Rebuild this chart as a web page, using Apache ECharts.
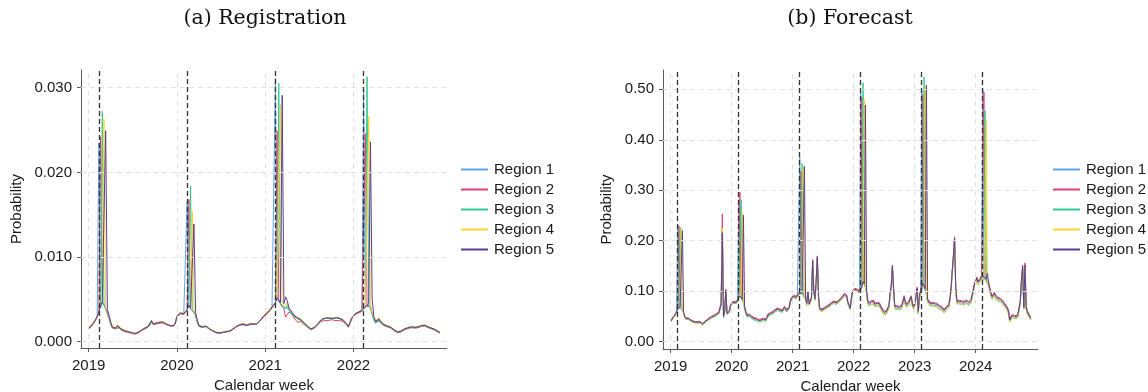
<!DOCTYPE html>
<html>
<head>
<meta charset="utf-8">
<script src="https://cdn.jsdelivr.net/npm/echarts@6/dist/echarts.min.js"></script>
<style>
html,body{margin:0;padding:0;background:#fff;}
#chart{width:1148px;height:392px;}
</style>
</head>
<body>
<div id="chart"></div>
<script>
// ---------- labels / categories ----------
const regionNames = ['Region 1', 'Region 2', 'Region 3', 'Region 4', 'Region 5'];
const panelTitles = ['(a) Registration', '(b) Forecast'];
const yearLabelsLeft = ['2019', '2020', '2021', '2022'];
const yearLabelsRight = ['2019', '2020', '2021', '2022', '2023', '2024'];
// week index (0 = first week of 2019) where each year starts
const yearWeeksLeft = [0, 52, 104, 156];
const yearWeeksRight = [0, 52, 104, 156, 208, 260];
// dashed black event lines (week index)
const eventWeeksLeft = [6, 58, 110, 162];
const eventWeeksRight = [6, 58, 110, 162, 214, 266];
// y tick values and labels
const yTicksLeft = [0, 0.01, 0.02, 0.03];
const yTickLabelsLeft = ['0.000', '0.010', '0.020', '0.030'];
const yTicksRight = [0, 0.1, 0.2, 0.3, 0.4, 0.5];
const yTickLabelsRight = ['0.00', '0.10', '0.20', '0.30', '0.40', '0.50'];

// ---------- (a) Registration: weekly probability, in units of 0.001 ----------
const regUnit = 0.001;
const regRegion1 = [
1.6,1.8,2.0,2.3,2.6,3.0,23.5,4.0,4.6,4.4, 3.9,3.4,2.9,2.1,1.7,1.8,1.6,1.9,1.7,1.5, 1.4,1.3,1.25,1.2,1.1,1.05,1.0,0.95,1.0,1.1, 1.2,1.3,1.5,1.6,1.7,1.8,1.85,2.4,2.1,2.0, 2.2,2.3,2.3,2.4,2.3,2.1,2.0,1.95,1.9,1.8, 1.9,2.2,
3.0,3.2,3.4,3.4,3.3,3.2,16.5,4.2,3.9,3.7, 3.5,3.1,2.3,1.9,1.8,1.7,1.8,1.8,1.7,1.5, 1.4,1.3,1.2,1.1,1.0,1.0,1.1,1.1,1.1,1.2, 1.15,1.25,1.4,1.5,1.6,1.8,1.9,2.0,2.0,2.1, 2.0,1.9,2.0,2.1,2.1,2.1,2.0,2.1,2.3,2.5, 2.7,3.0,
3.2,3.4,3.6,3.8,4.1,4.3,31.1,5.0,4.9,4.5, 4.2,4.0,4.0,4.2,3.8,3.5,3.4,3.0,2.9,2.8, 2.7,2.6,2.4,2.2,2.0,1.8,1.6,1.5,1.5,1.7, 1.9,2.1,2.4,2.5,2.7,2.7,2.8,2.7,2.8,2.8, 2.7,2.8,2.8,2.8,2.7,2.7,2.5,2.4,2.1,1.8, 2.3,2.8,
3.0,3.3,3.4,3.5,3.5,3.7,29.7,4.0,4.2,4.4, 4.1,3.3,2.7,2.3,2.5,2.6,2.3,2.1,2.0,1.9, 1.8,1.8,1.7,1.5,1.4,1.3,1.15,1.1,1.2,1.4, 1.5,1.6,1.6,1.7,1.7,1.8,1.7,1.8,1.7,1.8, 1.9,2.0,1.9,1.8,1.7,1.7,1.6,1.5,1.4,1.3, 1.2,1.1
];
const regRegion2 = [
1.5,1.7,1.9,2.2,2.5,2.9,3.5,24.2,4.7,4.4, 3.9,3.3,2.8,2.0,1.6,1.8,1.5,1.8,1.7,1.4, 1.3,1.2,1.2,1.1,1.0,1.0,0.9,0.9,1.0,1.0, 1.1,1.3,1.45,1.5,1.6,1.7,1.8,2.3,2.0,1.95, 2.1,2.25,2.2,2.35,2.2,2.1,2.0,1.9,1.85,1.8, 1.85,2.1,
2.9,3.1,3.3,3.4,3.2,3.1,3.7,16.8,3.9,3.7, 3.5,3.1,2.3,1.8,1.7,1.7,1.7,1.8,1.6,1.5, 1.4,1.25,1.15,1.05,0.95,1.0,1.05,1.05,1.1,1.15, 1.1,1.2,1.35,1.45,1.6,1.75,1.9,1.95,2.0,2.0, 1.95,1.9,1.95,2.0,2.1,2.05,2.0,2.05,2.25,2.45, 2.6,2.9,
3.1,3.3,3.5,3.7,4.0,4.2,4.5,24.9,4.9,4.5, 4.2,3.9,2.9,3.2,3.5,3.3,3.2,2.8,2.6,2.3, 2.4,2.4,2.2,2.0,1.9,1.7,1.5,1.4,1.45,1.6, 1.8,2.0,2.2,2.4,2.5,2.5,2.55,2.5,2.5,2.6, 2.4,2.5,2.55,2.5,2.5,2.45,2.35,2.2,1.95,1.7, 2.2,2.7,
2.9,3.2,3.4,3.4,3.5,3.6,3.7,24.6,4.2,4.4, 4.1,3.3,2.6,2.2,2.4,2.5,2.2,2.0,1.9,1.8, 1.75,1.7,1.6,1.4,1.3,1.2,1.05,1.0,1.15,1.3, 1.4,1.5,1.55,1.6,1.65,1.7,1.6,1.7,1.65,1.7, 1.8,1.9,1.85,1.7,1.65,1.6,1.5,1.45,1.35,1.2, 1.1,1.0
];
const regRegion3 = [
1.6,1.8,2.0,2.3,2.6,3.0,3.6,4.1,27.2,4.4, 3.9,3.4,2.9,2.1,1.7,1.8,1.6,1.8,1.6,1.5, 1.4,1.3,1.3,1.2,1.1,1.1,1.0,1.0,1.05,1.1, 1.2,1.35,1.5,1.6,1.7,1.8,1.85,2.4,2.1,2.05, 2.2,2.3,2.3,2.4,2.3,2.1,2.05,1.95,1.9,1.85, 1.9,2.2,
3.0,3.2,3.4,3.45,3.3,3.2,3.8,4.2,18.4,3.7, 3.5,3.1,2.3,1.8,1.7,1.7,1.75,1.8,1.65,1.5, 1.4,1.3,1.2,1.1,1.0,1.0,1.05,1.1,1.1,1.2, 1.15,1.25,1.4,1.5,1.65,1.8,1.95,2.0,2.05,2.1, 2.0,1.95,2.0,2.1,2.15,2.1,2.05,2.1,2.3,2.5, 2.7,3.0,
3.2,3.4,3.6,3.8,4.1,4.3,4.6,5.1,30.5,4.4, 4.1,3.9,3.9,4.3,3.7,3.4,3.3,3.0,2.8,2.7, 2.6,2.5,2.3,2.1,1.9,1.7,1.55,1.45,1.5,1.65, 1.85,2.05,2.35,2.5,2.65,2.7,2.75,2.7,2.75,2.8, 2.7,2.75,2.8,2.75,2.7,2.65,2.5,2.35,2.05,1.75, 2.25,2.75,
3.0,3.3,3.5,3.5,3.55,3.7,3.8,4.0,31.3,4.3, 4.0,3.2,2.6,2.2,2.5,2.6,2.3,2.1,1.95,1.85, 1.8,1.75,1.65,1.45,1.35,1.25,1.1,1.05,1.2,1.35, 1.45,1.55,1.6,1.65,1.7,1.75,1.65,1.75,1.7,1.75, 1.85,1.95,1.9,1.75,1.7,1.65,1.55,1.5,1.4,1.25, 1.15,1.05
];
const regRegion4 = [
1.7,1.9,2.1,2.4,2.7,3.1,3.7,4.3,4.9,26.3, 4.1,3.6,3.1,2.3,1.8,2.0,1.7,2.0,1.8,1.6, 1.5,1.4,1.35,1.25,1.15,1.1,1.0,0.9,1.1,1.15, 1.25,1.4,1.55,1.65,1.75,1.85,1.9,2.55,2.15,2.1, 2.25,2.4,2.35,2.5,2.35,2.2,2.1,2.0,1.95,1.9, 1.95,2.25,
3.1,3.3,3.5,3.5,3.35,3.25,3.85,4.35,4.1,15.4, 3.7,3.3,2.5,2.0,1.85,1.8,1.85,1.9,1.75,1.6, 1.5,1.35,1.25,1.15,1.05,1.1,1.15,1.15,1.2,1.25, 1.2,1.3,1.45,1.55,1.7,1.85,2.0,2.05,2.1,2.15, 2.05,2.0,2.05,2.15,2.2,2.15,2.1,2.15,2.35,2.55, 2.75,3.05,
3.3,3.5,3.7,3.9,4.2,4.4,4.7,5.3,5.1,28.0, 4.4,4.2,4.3,4.6,4.0,3.7,3.6,3.2,3.0,2.9, 2.8,2.7,2.5,2.3,2.1,1.9,1.7,1.55,1.6,1.75, 1.95,2.15,2.45,2.6,2.75,2.8,2.85,2.8,2.85,2.9, 2.8,2.85,2.9,2.85,2.8,2.75,2.6,2.45,2.15,1.85, 2.35,2.85,
3.05,3.35,3.55,3.55,3.6,3.75,3.85,4.15,4.35,26.6, 4.3,3.5,2.9,2.5,2.7,2.8,2.5,2.3,2.1,2.0, 1.9,1.85,1.75,1.55,1.45,1.35,1.2,1.15,1.3,1.45, 1.55,1.65,1.7,1.75,1.8,1.85,1.75,1.85,1.8,1.85, 1.95,2.05,2.0,1.85,1.8,1.75,1.65,1.6,1.5,1.35, 1.25,1.15
];
const regRegion5 = [
1.6,1.8,2.0,2.3,2.6,3.0,3.6,4.2,4.8,4.6, 24.9,3.8,3.1,2.3,1.7,1.9,1.6,1.9,1.7,1.5, 1.4,1.3,1.3,1.2,1.1,1.1,1.0,0.95,1.05,1.1, 1.2,1.35,1.5,1.6,1.7,1.8,1.85,2.5,2.1,2.05, 2.2,2.35,2.3,2.45,2.3,2.15,2.05,1.95,1.9,1.85, 1.9,2.2,
3.0,3.2,3.4,3.45,3.3,3.2,3.8,4.3,4.0,3.8, 13.9,3.4,2.5,1.9,1.8,1.75,1.8,1.85,1.7,1.55, 1.45,1.3,1.2,1.1,1.0,1.05,1.1,1.1,1.15,1.2, 1.15,1.25,1.4,1.5,1.65,1.8,1.95,2.0,2.05,2.1, 2.0,1.95,2.0,2.1,2.15,2.1,2.05,2.1,2.3,2.5, 2.7,3.0,
3.2,3.4,3.6,3.8,4.1,4.3,4.6,5.2,5.0,4.6, 29.1,4.5,5.3,4.8,4.0,3.7,3.5,3.1,2.9,2.8, 2.7,2.6,2.4,2.2,2.0,1.8,1.6,1.5,1.55,1.7, 1.9,2.1,2.4,2.55,2.7,2.75,2.8,2.75,2.8,2.85, 2.75,2.8,2.85,2.8,2.75,2.7,2.55,2.4,2.1,1.8, 2.3,2.8,
3.0,3.3,3.5,3.5,3.55,3.7,3.8,4.1,4.3,4.5, 23.6,5.0,3.0,2.4,2.6,2.7,2.4,2.2,2.0,1.9, 1.85,1.8,1.7,1.5,1.4,1.3,1.15,1.1,1.25,1.4, 1.5,1.6,1.65,1.7,1.75,1.8,1.7,1.8,1.75,1.8, 1.9,2.0,1.95,1.8,1.75,1.7,1.6,1.55,1.45,1.3, 1.2,1.1
];

// ---------- (b) Forecast: weekly probability, in units of 0.01 ----------
const fcUnit = 0.01;
const fcRegion1 = [
3.9,4.3,4.7,4.9,5.3,5.8,22.5,6.7,6.8,6.6, 6.3,5.7,4.9,4.5,4.3,4.5,4.3,4.2,4.1,3.9, 4.0,3.8,3.7,3.8,4.0,3.8,3.6,3.4,3.5,3.8, 4.0,4.2,4.4,4.5,4.6,4.8,4.9,5.0,5.2,5.3, 5.4,5.6,5.8,7.3,22.0,4.9,5.9,10.0,5.5,5.2, 5.9,7.1,
7.5,7.6,7.7,7.8,7.7,8.1,27.4,9.1,8.7,8.3, 7.9,6.7,5.8,5.1,4.9,5.2,5.0,4.8,5.1,4.5, 4.3,4.4,4.2,4.1,4.3,4.2,4.1,4.4,4.3,4.2, 4.7,5.2,5.3,5.5,5.6,5.7,5.9,6.1,6.2,6.4, 6.5,6.2,6.1,6.0,6.3,6.7,6.4,6.1,5.8,6.7, 7.9,8.5,
8.7,8.9,8.9,8.7,9.1,9.3,36.6,9.8,9.5,9.2, 8.9,8.5,7.5,9.6,7.4,7.7,8.5,15.8,9.9,8.4, 11.8,16.5,8.9,6.4,6.3,6.2,6.3,6.5,6.8,6.8, 6.9,7.1,7.1,7.5,7.8,7.8,7.6,7.6,7.4,7.9, 8.2,8.4,8.7,8.9,9.3,9.5,9.0,7.7,7.1,6.5, 8.4,9.8,
10.0,10.2,10.3,10.0,9.7,9.8,49.5,10.8,11.7,11.3, 10.8,9.8,7.7,7.3,7.4,7.6,7.3,7.7,7.1,6.9, 7.3,7.6,7.2,6.6,6.3,5.9,5.5,5.3,5.7,6.3, 6.7,9.2,10.7,14.7,10.2,6.7,6.4,6.6,6.3,6.5, 6.6,6.8,7.7,8.6,7.5,7.0,6.9,7.5,8.2,8.6, 7.2,6.6,
7.2,8.5,10.3,5.7,8.7,9.7,49.9,11.2,10.7,10.2, 9.5,8.0,7.7,7.3,7.5,7.3,7.6,7.2,7.0,7.1, 6.8,6.7,6.9,6.5,6.3,5.9,6.1,6.5,6.7,6.9, 8.2,10.2,13.7,16.7,20.2,10.2,7.7,7.6,7.7,7.5, 7.6,7.7,7.5,7.6,7.8,7.5,7.4,7.5,7.9,8.9, 8.7,11.2,
11.7,12.3,11.5,11.3,12.1,12.6,50.2,12.5,12.3,12.1, 11.7,11.3,10.2,9.2,8.6,8.9,9.3,8.7,9.0,8.3, 8.4,8.1,8.0,7.7,7.3,7.5,6.7,6.3,5.7,4.0, 3.7,4.9,5.0,4.7,5.0,4.7,5.1,5.2,7.7,11.9, 14.5,6.5,14.8,6.7,5.6,5.2,4.7,4.4
];
const fcRegion2 = [
4.1,4.5,4.9,5.1,5.5,6.0,6.6,23.0,7.0,6.8, 6.5,5.9,5.1,4.7,4.5,4.7,4.5,4.4,4.3,4.1, 4.2,4.0,3.9,4.0,4.2,4.0,3.8,3.6,3.7,4.0, 4.2,4.4,4.7,4.8,4.9,5.1,5.2,5.3,5.5,5.6, 5.7,5.9,6.1,7.8,25.3,5.2,6.2,10.4,5.8,5.5, 6.2,7.4,
7.8,7.9,8.0,8.1,8.0,8.4,9.2,29.6,9.0,8.6, 8.2,7.0,6.1,5.4,5.2,5.5,5.3,5.1,5.4,4.8, 4.6,4.7,4.5,4.4,4.6,4.5,4.4,4.7,4.6,4.5, 5.0,5.5,5.6,5.8,5.9,6.0,6.2,6.4,6.5,6.7, 6.8,6.5,6.4,6.3,6.6,7.0,6.7,6.4,6.1,7.0, 8.2,8.8,
9.0,9.2,9.2,9.0,9.4,9.6,9.8,33.7,9.8,9.5, 9.2,8.8,7.8,10.0,7.7,8.0,8.8,16.3,10.2,8.7, 12.2,17.0,9.2,6.7,6.6,6.5,6.6,6.8,7.1,7.1, 7.2,7.4,7.4,7.8,8.1,8.1,7.9,7.9,7.7,8.2, 8.5,8.7,9.0,9.2,9.6,9.8,9.3,8.0,7.4,6.8, 8.7,10.1,
10.4,10.6,10.7,10.4,10.1,10.2,10.7,48.5,12.1,11.7, 11.2,10.2,8.2,7.8,7.9,8.1,7.8,8.2,7.6,7.4, 7.8,8.1,7.7,7.1,6.8,6.4,6.0,5.8,6.2,6.8, 7.2,9.7,11.2,15.2,10.7,7.2,6.9,7.1,6.8,7.0, 7.1,7.3,8.2,9.1,8.0,7.5,7.4,8.0,8.7,9.1, 7.7,7.1,
7.7,9.0,10.8,6.2,9.2,10.2,11.0,49.0,11.2,10.7, 10.0,8.5,8.2,7.8,8.0,7.8,8.1,7.7,7.5,7.6, 7.3,7.2,7.4,7.0,6.8,6.4,6.6,7.0,7.2,7.4, 8.7,10.7,14.2,17.2,20.8,10.7,8.2,8.1,8.2,8.0, 8.1,8.2,8.0,8.1,8.3,8.0,7.9,8.0,8.4,9.4, 9.2,11.7,
12.2,12.8,12.0,11.8,12.6,13.1,13.1,49.5,12.8,12.6, 12.2,11.8,10.7,9.7,9.1,9.4,9.8,9.2,9.5,8.8, 8.9,8.6,8.5,8.2,7.8,8.0,7.2,6.8,6.2,4.5, 4.2,5.4,5.5,5.2,5.5,5.2,5.6,5.7,8.2,12.5, 15.2,7.0,15.6,7.2,6.1,5.7,5.2,4.9
];
const fcRegion3 = [
3.9,4.3,4.7,4.9,5.3,5.8,6.4,6.7,22.7,6.6, 6.2,5.6,4.8,4.4,4.2,4.4,4.2,4.1,4.0,3.8, 3.9,3.7,3.6,3.7,3.9,3.7,3.5,3.3,3.4,3.7, 3.9,4.1,4.3,4.4,4.5,4.7,4.8,4.9,5.1,5.2, 5.3,5.5,5.7,7.3,22.5,4.8,5.8,10.0,5.4,5.1, 5.8,7.0,
7.4,7.5,7.6,7.7,7.6,8.0,8.8,9.0,28.1,8.2, 7.7,6.5,5.6,4.9,4.7,5.0,4.8,4.6,4.9,4.3, 4.1,4.2,4.0,3.9,4.1,4.0,3.9,4.2,4.1,4.0, 4.5,5.0,5.1,5.3,5.4,5.5,5.7,5.9,6.0,6.2, 6.3,6.0,5.9,5.8,6.1,6.5,6.2,5.9,5.6,6.5, 7.7,8.3,
8.5,8.7,8.7,8.5,8.9,9.1,9.3,9.6,35.3,9.0, 8.7,8.3,7.2,9.5,7.2,7.5,8.3,15.8,9.7,8.2, 11.7,16.5,8.7,6.2,6.1,6.0,6.1,6.3,6.6,6.6, 6.7,6.9,6.9,7.3,7.6,7.6,7.4,7.4,7.2,7.7, 8.0,8.2,8.5,8.7,9.1,9.3,8.8,7.5,6.9,6.3, 8.2,9.6,
9.9,10.1,10.2,9.9,9.6,9.7,10.2,10.7,51.3,11.2, 10.7,9.6,7.5,7.1,7.2,7.4,7.1,7.5,6.9,6.7, 7.1,7.4,7.0,6.4,6.1,5.7,5.3,5.1,5.5,6.1, 6.5,9.0,10.5,14.6,10.0,6.5,6.2,6.4,6.1,6.3, 6.4,6.6,7.5,8.4,7.3,6.8,6.7,7.3,8.0,8.4, 7.0,6.4,
7.0,8.3,10.1,5.5,8.5,9.5,10.3,11.0,52.4,10.0, 9.3,7.8,7.5,7.1,7.3,7.1,7.4,7.0,6.8,6.9, 6.6,6.5,6.7,6.3,6.1,5.7,5.9,6.3,6.5,6.7, 8.0,10.0,13.5,16.5,20.0,10.0,7.5,7.4,7.5,7.3, 7.4,7.5,7.3,7.4,7.6,7.3,7.2,7.3,7.7,8.7, 8.5,11.0,
11.5,12.1,11.3,11.1,11.9,12.4,12.4,12.3,45.8,11.9, 11.5,11.1,10.0,9.0,8.4,8.7,9.1,8.5,8.8,8.1, 8.2,7.9,7.8,7.5,7.1,7.3,6.5,6.1,5.5,3.9, 3.6,4.8,4.9,4.6,4.9,4.6,5.0,5.1,7.6,11.8, 14.4,6.4,14.8,6.6,5.5,5.1,4.6,4.3
];
const fcRegion4 = [
3.9,4.3,4.7,4.9,5.3,5.8,6.4,6.7,6.8,22.5, 6.3,5.7,4.9,4.5,4.3,4.5,4.3,4.2,4.1,3.9, 4.0,3.8,3.7,3.7,3.9,3.7,3.5,3.3,3.4,3.8, 4.0,4.2,4.4,4.5,4.6,4.8,4.9,5.0,5.2,5.3, 5.4,5.6,5.8,7.4,22.5,4.9,5.9,10.1,5.5,5.2, 5.9,7.1,
7.5,7.6,7.7,7.8,7.7,8.1,8.9,9.1,8.7,25.6, 7.9,6.7,5.8,5.1,4.9,5.2,5.0,4.8,5.1,4.5, 4.3,4.4,4.2,4.1,4.3,4.2,4.1,4.4,4.3,4.2, 4.7,5.2,5.3,5.5,5.6,5.7,5.9,6.1,6.2,6.4, 6.5,6.2,6.1,6.0,6.3,6.7,6.4,6.1,5.8,6.7, 7.9,8.5,
8.6,8.8,8.8,8.6,9.0,9.2,9.4,9.7,9.4,34.5, 8.8,8.4,7.4,9.6,7.3,7.6,8.4,15.9,9.8,8.3, 11.9,16.7,8.8,6.3,6.2,6.1,6.2,6.4,6.7,6.7, 6.8,7.0,7.0,7.4,7.7,7.7,7.5,7.5,7.3,7.8, 8.1,8.3,8.6,8.8,9.2,9.4,8.9,7.6,7.0,6.4, 8.3,9.7,
10.0,10.2,10.3,10.0,9.7,9.8,10.3,10.8,11.7,48.0, 10.8,9.8,7.6,7.2,7.3,7.5,7.2,7.6,7.0,6.8, 7.2,7.5,7.1,6.5,6.2,5.8,5.4,5.2,5.6,6.2, 6.6,9.1,10.6,14.8,10.1,6.6,6.3,6.5,6.2,6.4, 6.5,6.7,7.6,8.5,7.4,6.9,6.8,7.4,8.1,8.5, 7.1,6.5,
7.1,8.4,10.2,5.6,8.6,9.6,10.4,11.1,10.6,50.5, 9.4,7.9,7.6,7.2,7.4,7.2,7.5,7.1,6.9,7.0, 6.7,6.6,6.8,6.4,6.2,5.8,6.0,6.4,6.6,6.8, 8.1,10.1,13.6,16.6,20.1,10.1,7.6,7.5,7.6,7.4, 7.5,7.6,7.4,7.5,7.7,7.4,7.3,7.4,7.8,8.8, 8.6,11.1,
11.6,12.2,11.4,11.2,12.0,12.5,12.5,12.4,12.2,43.8, 11.6,11.2,10.1,9.1,8.5,8.8,9.2,8.6,8.9,8.2, 8.3,8.0,7.9,7.6,7.2,7.4,6.6,6.2,5.6,4.0, 3.7,4.9,5.0,4.7,5.0,4.7,5.1,5.2,7.7,11.9, 14.6,6.5,14.9,6.7,5.6,5.2,4.7,4.4
];
const fcRegion5 = [
4.0,4.4,4.8,5.0,5.4,5.9,6.5,6.8,6.9,6.7, 22.0,5.8,5.0,4.6,4.4,4.6,4.4,4.3,4.2,4.0, 4.1,3.9,3.8,3.9,4.1,3.9,3.7,3.5,3.6,3.9, 4.1,4.3,4.5,4.6,4.7,4.9,5.0,5.1,5.3,5.4, 5.5,5.7,5.9,7.5,21.6,5.0,6.0,10.2,5.6,5.3, 6.0,7.2,
7.6,7.7,7.8,7.9,7.8,8.2,9.0,9.2,8.8,8.4, 25.1,6.8,5.9,5.2,5.0,5.3,5.1,4.9,5.2,4.6, 4.4,4.5,4.3,4.2,4.4,4.3,4.2,4.5,4.4,4.3, 4.8,5.3,5.4,5.6,5.7,5.8,6.0,6.2,6.3,6.5, 6.6,6.3,6.2,6.1,6.4,6.8,6.5,6.2,5.9,6.8, 8.0,8.6,
8.8,9.0,9.0,8.8,9.2,9.4,9.6,9.9,9.6,9.3, 34.8,8.6,7.6,9.8,7.5,7.8,8.6,16.0,10.0,8.5, 12.0,16.8,9.0,6.5,6.4,6.3,6.4,6.6,6.9,6.9, 7.0,7.2,7.2,7.6,7.9,7.9,7.7,7.7,7.5,8.0, 8.3,8.5,8.8,9.0,9.4,9.6,9.1,7.8,7.2,6.6, 8.5,9.9,
10.2,10.4,10.5,10.2,9.9,10.0,10.5,11.0,11.9,11.5, 46.9,10.0,8.0,7.6,7.7,7.9,7.6,8.0,7.4,7.2, 7.6,7.9,7.5,6.9,6.6,6.2,5.8,5.6,6.0,6.6, 7.0,9.5,11.0,15.0,10.5,7.0,6.7,6.9,6.6,6.8, 6.9,7.1,8.0,8.9,7.8,7.3,7.2,7.8,8.5,8.9, 7.5,6.9,
7.5,8.8,10.6,6.0,9.0,10.0,10.8,11.5,11.0,10.5, 50.8,8.3,8.0,7.6,7.8,7.6,7.9,7.5,7.3,7.4, 7.1,7.0,7.2,6.8,6.6,6.2,6.4,6.8,7.0,7.2, 8.5,10.5,14.0,17.0,20.5,10.5,8.0,7.9,8.0,7.8, 7.9,8.0,7.8,7.9,8.1,7.8,7.7,7.8,8.2,9.2, 9.0,11.5,
12.0,12.6,11.8,11.6,12.4,12.9,12.9,12.8,12.6,12.4, 13.5,11.6,10.5,9.5,8.9,9.2,9.6,9.0,9.3,8.6, 8.7,8.4,8.3,8.0,7.6,7.8,7.0,6.6,6.0,4.3, 4.0,5.2,5.3,5.0,5.3,5.0,5.4,5.5,8.0,12.2, 14.9,6.8,15.2,7.0,5.9,5.5,5.0,4.7
];

// ---------- styling ----------
const regionColors = ['#5ba4f0', '#e0426e', '#34c98f', '#ffd02e', '#5a3d98'];
const FONT = '"Liberation Sans", Arial, sans-serif';
const TXT = '#1a1a1a';
const AXC = '#5a5a5a';

const regSeriesData = [regRegion1, regRegion2, regRegion3, regRegion4, regRegion5];
const fcSeriesData = [fcRegion1, fcRegion2, fcRegion3, fcRegion4, fcRegion5];

const chart = echarts.init(document.getElementById('chart'), null, {renderer: 'canvas'});

function xAxisFor(gridIndex, min, max, weeks, labels) {
  return {
    type: 'value', gridIndex, min, max,
    axisLine: {show: true, onZero: false, lineStyle: {color: AXC, width: 1}},
    axisTick: {show: true, customValues: weeks, length: 4, lineStyle: {color: AXC}},
    axisLabel: {show: true, customValues: weeks, margin: 10, color: TXT, fontSize: 15, fontFamily: FONT,
      formatter: v => labels[weeks.indexOf(Math.round(v))] || ''},
    splitLine: {show: false},
    name: 'Calendar week', nameLocation: 'middle', nameGap: 27,
    nameTextStyle: {color: TXT, fontSize: 15, fontFamily: FONT}
  };
}
function yAxisFor(gridIndex, min, max, ticks, labels, nameGap) {
  return {
    type: 'value', gridIndex, min, max,
    axisLine: {show: true, onZero: false, lineStyle: {color: AXC, width: 1}},
    axisTick: {show: true, customValues: ticks, length: 4, lineStyle: {color: AXC}},
    axisLabel: {show: true, customValues: ticks, margin: 9, color: TXT, fontSize: 15, fontFamily: FONT,
      formatter: v => {
        let best = 0;
        ticks.forEach((t, i) => { if (Math.abs(t - v) < Math.abs(ticks[best] - v)) best = i; });
        return labels[best];
      }},
    splitLine: {show: false},
    name: 'Probability', nameLocation: 'middle', nameGap,
    nameTextStyle: {color: TXT, fontSize: 15, fontFamily: FONT}
  };
}

function guideSeries(idx, xVals, yVals, events) {
  return [{
    type: 'line', xAxisIndex: idx, yAxisIndex: idx, data: [], silent: true, z: 1,
    markLine: {
      silent: true, symbol: ['none', 'none'], animation: false,
      label: {show: false},
      lineStyle: {color: '#e2e2e2', type: [5, 4], width: 1},
      data: xVals.map(v => ({xAxis: v})).concat(yVals.map(v => ({yAxis: v})))
    }
  }, {
    type: 'line', xAxisIndex: idx, yAxisIndex: idx, data: [], silent: true, z: 5,
    markLine: {
      silent: true, symbol: ['none', 'none'], animation: false,
      label: {show: false},
      lineStyle: {color: '#333333', type: [5, 3], width: 1.3},
      data: events.map(v => ({xAxis: v}))
    }
  }];
}

const series = [];
series.push(...guideSeries(0, yearWeeksLeft, yTicksLeft, eventWeeksLeft));
series.push(...guideSeries(1, yearWeeksRight, yTicksRight, eventWeeksRight));
regSeriesData.forEach((arr, r) => {
  series.push({
    type: 'line', name: regionNames[r], xAxisIndex: 0, yAxisIndex: 0, z: 2,
    data: arr.map((v, i) => [i, v * regUnit]),
    symbol: 'none', showSymbol: false,
    lineStyle: {width: 1, color: regionColors[r]}, itemStyle: {color: regionColors[r]},
    animation: false
  });
});
fcSeriesData.forEach((arr, r) => {
  series.push({
    type: 'line', name: regionNames[r], xAxisIndex: 1, yAxisIndex: 1, z: 2,
    data: arr.map((v, i) => [i, v * fcUnit]),
    symbol: 'none', showSymbol: false,
    lineStyle: {width: 1, color: regionColors[r]}, itemStyle: {color: regionColors[r]},
    animation: false
  });
});

function legendAt(left) {
  return {
    orient: 'vertical', left, top: 157, itemWidth: 27, itemHeight: 2, itemGap: 5,
    icon: 'rect',
    data: regionNames, selectedMode: false,
    textStyle: {color: TXT, fontSize: 15, fontFamily: FONT, lineHeight: 15, padding: [0, 0, 0, 1]}
  };
}

chart.setOption({
  backgroundColor: '#ffffff',
  animation: false,
  grid: [
    {left: 81, top: 70, width: 366, height: 278, outerBoundsMode: 'none', containLabel: false},
    {left: 663, top: 70, width: 375, height: 279, outerBoundsMode: 'none', containLabel: false}
  ],
  xAxis: [
    xAxisFor(0, -4.54, 211.1, yearWeeksLeft, yearLabelsLeft),
    xAxisFor(1, -6.56, 313.1, yearWeeksRight, yearLabelsRight)
  ],
  yAxis: [
    yAxisFor(0, -0.000744, 0.03209, yTicksLeft, yTickLabelsLeft, 57),
    yAxisFor(1, -0.01446, 0.53823, yTicksRight, yTickLabelsRight, 49)
  ],
  legend: [legendAt(456), legendAt(1048)],
  graphic: [
    {type: 'text', x: 265, y: 19, style: {text: panelTitles[0], align: 'center', verticalAlign: 'middle',
      font: '20.5px "DejaVu Serif", serif', fill: '#111'}},
    {type: 'text', x: 850, y: 19, style: {text: panelTitles[1], align: 'center', verticalAlign: 'middle',
      font: '20.5px "DejaVu Serif", serif', fill: '#111'}}
  ],
  series
});
</script>
</body>
</html>
